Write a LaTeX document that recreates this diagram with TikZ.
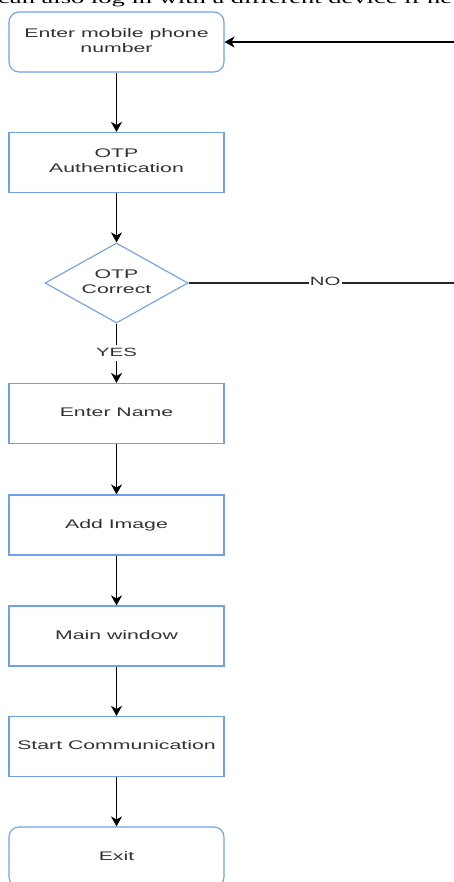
\documentclass[tikz,border=0pt]{standalone}
\usepackage{fontspec}
\setmainfont{Liberation Sans}
\newfontfamily\serifword{Liberation Serif}
\usetikzlibrary{shapes.geometric,arrows.meta}
\definecolor{boxblue}{RGB}{110,160,235}
\definecolor{txtgray}{RGB}{50,50,50}
\newcommand{\wtxt}[1]{\scalebox{1.7}[1]{\begin{tabular}{@{}c@{}}#1\end{tabular}}}
\begin{document}
\begin{tikzpicture}[x=1pt,y=-1pt,
  boxstyle/.style={draw=boxblue, line width=1.1pt, fill=white, minimum width=215pt, minimum height=60pt, inner sep=0pt, text=txtgray, font=\fontsize{12.5}{15}\selectfont},
  roundbox/.style={boxstyle, rounded corners=10pt},
  decision/.style={diamond, draw=boxblue, line width=1.1pt, fill=white, minimum width=143pt, minimum height=80pt, inner sep=0pt, aspect=1.79, text=txtgray, font=\fontsize{12.5}{15}\selectfont},
  flow/.style={draw=black, line width=1.5pt, -{Stealth[length=10pt,width=11pt,inset=3pt]}},
  plainline/.style={draw=black!85, line width=1.2pt},
  lbl/.style={fill=white, inner sep=1pt, text=txtgray, font=\fontsize{12}{14}\selectfont}]
\useasboundingbox (0,0) rectangle (454,882);
\clip (0,0) rectangle (454,882);

\node[font=\serifword\fontsize{15.6}{18}\selectfont, anchor=base west, inner sep=0pt, text=black] (top) at (-2,3.5) {\scalebox{1.7}[1]{can also log in with a different device if ne}};

\node[roundbox] (phone) at (116.5,42) {\wtxt{Enter mobile phone\\number}};
\node[boxstyle] (auth) at (116.5,162.5) {\wtxt{OTP\\Authentication}};
\node[decision] (otp) at (116.5,283) {\wtxt{OTP\\Correct}};
\node[boxstyle] (name) at (116.5,413.5) {\wtxt{Enter Name}};
\node[boxstyle] (image) at (116.5,525) {\wtxt{Add Image}};
\node[boxstyle] (main) at (116.5,636) {\wtxt{Main window}};
\node[boxstyle] (start) at (116.5,746.5) {\wtxt{Start Communication}};
\node[roundbox] (exit) at (116.5,857) {\wtxt{Exit}};

\coordinate (r1) at (462,283);
\coordinate (r2) at (462,42);

\draw[flow] (phone) -- (auth);
\draw[flow] (auth) -- (otp);
\draw[flow] (otp) -- node[lbl]{\wtxt{YES}} (name);
\draw[flow] (name) -- (image);
\draw[flow] (image) -- (main);
\draw[flow] (main) -- (start);
\draw[flow] (start) -- (exit);
\draw[plainline] (otp.east) -- node[lbl]{\wtxt{NO}} (r1);
\draw[flow] (r1) -- (r2) -- (phone.east);
\end{tikzpicture}
\end{document}
